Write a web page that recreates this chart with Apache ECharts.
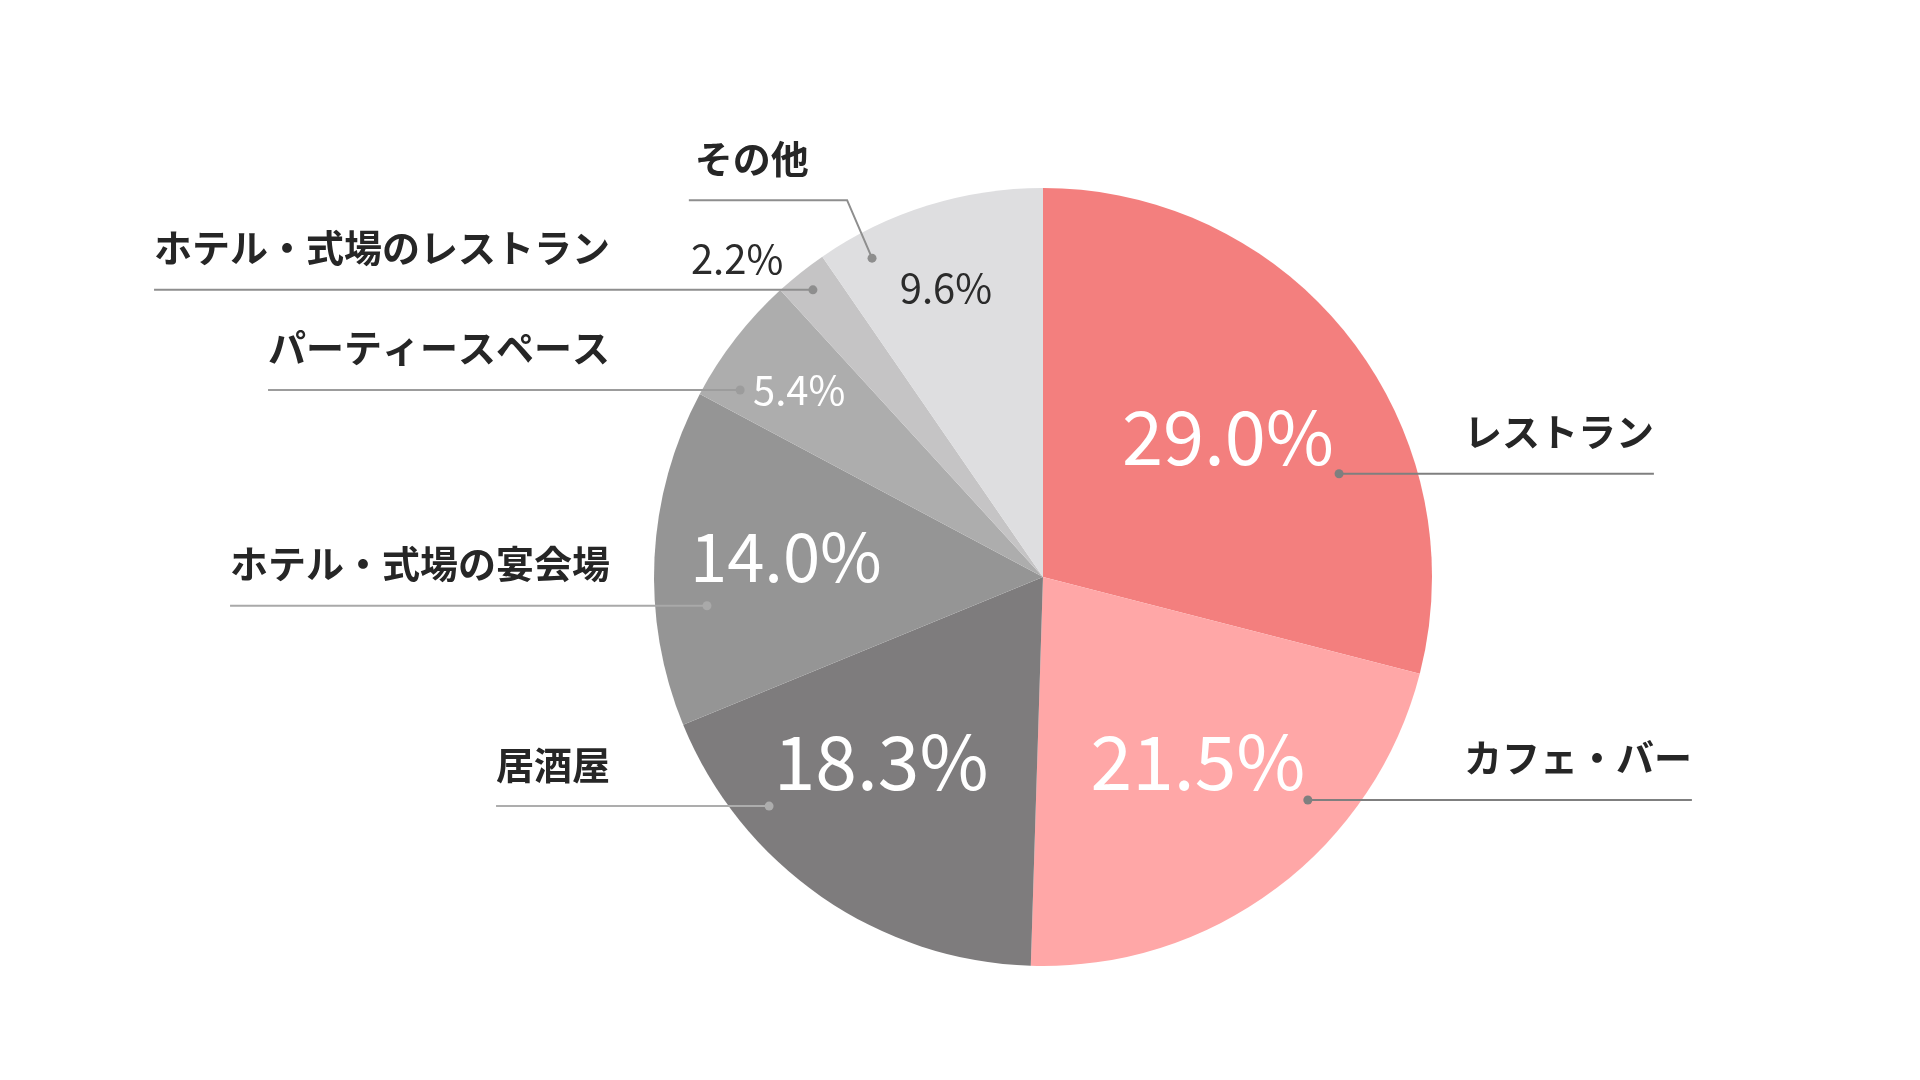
<!DOCTYPE html>
<html>
<head>
<meta charset="utf-8">
<title>業態別シェア</title>
<script src="https://cdn.jsdelivr.net/npm/echarts@6/dist/echarts.min.js"></script>
<style>
    html, body { margin: 0; padding: 0; background: #fff; }
    #chart { width: 1920px; height: 1080px; }
</style>
</head>
<body>
<div id="chart"></div>
<script>
// ---
// data
// ---
var categories = ['レストラン', 'カフェ・バー', '居酒屋', 'ホテル・式場の宴会場', 'パーティースペース', 'ホテル・式場のレストラン', 'その他'];
var shares = [29.0, 21.5, 18.3, 14.0, 5.4, 2.2, 9.6];

// ---
// styles / layout (kept apart from the data)
// ---
var sliceColors = ['#F37F7E', '#FFA7A7', '#7E7C7D', '#959595', '#ADADAD', '#C5C4C5', '#DEDEE0'];
var lineColors = ['#7f7f7f', '#7f7f7f', '#adadad', '#a9a9a9', '#9c9c9c', '#8e8e8e', '#8e8e8e'];
// percent label: [position across the slice (0..1), radius fraction]
var pctPlace = [[0.507, 0.596], [0.46, 0.62], [0.598, 0.632], [0.532, 0.663], [0.485, 0.79], [-0.18, 1.134], [0.463, 0.784]];
var pctSize = [74, 75, 75, 67, 40, 40, 40];
var pctColor = ['#fff', '#fff', '#fff', '#fff', '#fff', '#2b2b2b', '#2b2b2b'];
// leader dot: [position across the slice (0..1), radius fraction]
var dotPlace = [[0.678, 0.806], [0.332, 0.89], [0.733, 0.918], [0.346, 0.867], [0.186, 0.915], [0.477, 0.946], [0.184, 0.93]];
// name label x, in radius units from the pie centre, and which way the text runs
var nameX = [1.082, 1.082, -1.113, -1.113, -1.113, -1.113, -0.895];
var nameAlign = ['left', 'left', 'right', 'right', 'right', 'right', 'left'];
// only その他 bends: rise of the line above its dot (px)
var lineRise = [0, 0, 0, 0, 0, 0, 58];

var center = [1043, 577];
var radius = 389;
var polarMax = 1.25;   // polar reaches past the pie so the outside label fits
var FONT = '"Noto Sans CJK JP", "Noto Sans", sans-serif';

var chart = echarts.init(document.getElementById('chart'));

// cumulative start of each slice, in percent
var starts = [];
var acc = 0;
shares.forEach(function (v) {
    starts.push(acc);
    acc += v;
});
var total = acc;

var pieData = categories.map(function (name, i) {
    return {name: name, value: shares[i], itemStyle: {color: sliceColors[i]}};
});

// same slices again, invisible, only to carry the name labels + leader lines above the pie
var namePieData = categories.map(function (name, i) {
    return {
        name: name,
        value: shares[i],
        labelLine: {lineStyle: {color: lineColors[i]}}
    };
});

var dotData = shares.map(function (v, i) {
    return {
        value: [dotPlace[i][1], (starts[i] + dotPlace[i][0] * v) / total * 100],
        itemStyle: {color: lineColors[i]}
    };
});

var pctData = shares.map(function (v, i) {
    return {
        value: [pctPlace[i][1], (starts[i] + pctPlace[i][0] * v) / total * 100],
        label: {fontSize: pctSize[i], color: pctColor[i]}
    };
});

function dotPixel(i) {
    var p = chart.convertToPixel({seriesIndex: 2}, dotData[i].value);
    if (!p) {
        var a = dotData[i].value[1] / 100 * Math.PI * 2;
        var r = dotData[i].value[0] * radius;
        p = [center[0] + r * Math.sin(a), center[1] - r * Math.cos(a)];
    }
    return p;
}

chart.setOption({
    backgroundColor: '#fff',
    animation: false,
    polar: {center: center, radius: radius * polarMax},
    angleAxis: {
        type: 'value', min: 0, max: 100, startAngle: 90, clockwise: true,
        show: false,
        axisLine: {show: false}, axisTick: {show: false}, axisLabel: {show: false}, splitLine: {show: false}
    },
    radiusAxis: {
        type: 'value', min: 0, max: polarMax,
        show: false,
        axisLine: {show: false}, axisTick: {show: false}, axisLabel: {show: false}, splitLine: {show: false}
    },
    series: [
        {
            // slices
            type: 'pie',
            z: 2,
            center: center,
            radius: radius,
            startAngle: 90,
            clockwise: true,
            silent: true,
            data: pieData,
            label: {show: false},
            labelLine: {show: false}
        },
        {
            // name labels with their leader lines
            type: 'pie',
            z: 3,
            center: center,
            radius: radius,
            startAngle: 90,
            clockwise: true,
            silent: true,
            avoidLabelOverlap: false,
            data: namePieData,
            itemStyle: {color: 'rgba(0,0,0,0)'},
            label: {
                show: true,
                position: 'outside',
                formatter: '{b}',
                fontFamily: FONT,
                fontSize: 38,
                fontWeight: 'bold',
                color: '#262626'
            },
            labelLine: {
                show: true,
                showAbove: true,
                length: 5,
                length2: 5,
                lineStyle: {width: 2, opacity: 1}
            },
            labelLayout: function (p) {
                var i = p.dataIndex;
                var dot = dotPixel(i);
                var rise = lineRise[i];
                var corner = [dot[0] - rise * 0.43, dot[1] - rise];
                var x = center[0] + nameX[i] * radius;
                var w = p.labelRect.width;
                var endX;
                if (nameAlign[i] === 'right') {
                    endX = x - w;
                } else if (rise > 0) {
                    endX = x - 6;
                } else {
                    endX = x + w;
                }
                return {
                    x: x,
                    y: corner[1] - 42,
                    align: nameAlign[i],
                    verticalAlign: 'middle',
                    labelLinePoints: [dot, corner, [endX, corner[1]]]
                };
            }
        },
        {
            // leader dots
            type: 'scatter',
            coordinateSystem: 'polar',
            z: 4,
            symbol: 'circle',
            symbolSize: 9,
            silent: true,
            itemStyle: {opacity: 1},
            data: dotData
        },
        {
            // percent labels
            type: 'scatter',
            coordinateSystem: 'polar',
            z: 5,
            symbolSize: 0,
            silent: true,
            clip: false,
            itemStyle: {opacity: 1},
            data: pctData,
            label: {
                show: true,
                position: 'inside',
                fontFamily: FONT,
                fontWeight: 'normal',
                formatter: function (p) {
                    return shares[p.dataIndex].toFixed(1) + '%';
                }
            }
        }
    ]
});
</script>
</body>
</html>
